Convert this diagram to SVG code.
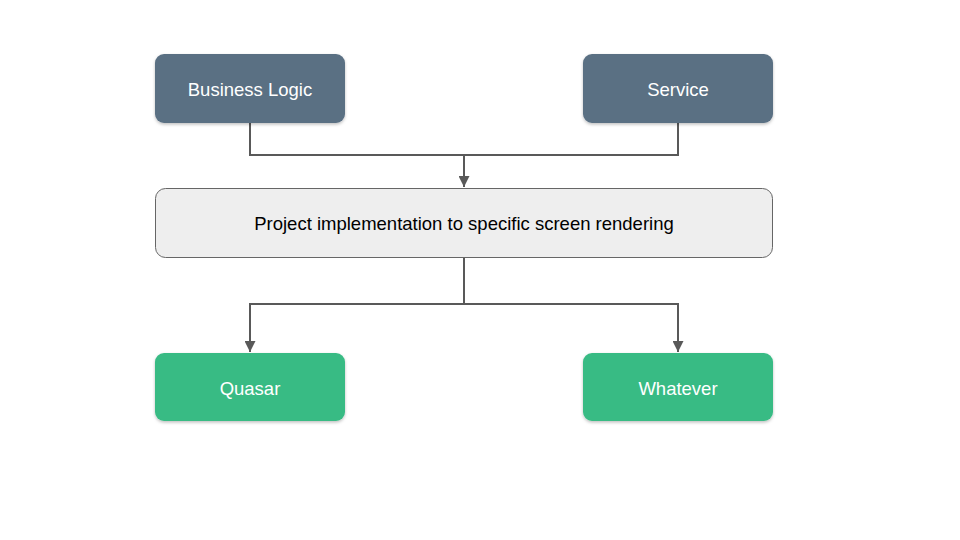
<svg xmlns="http://www.w3.org/2000/svg" width="960" height="540" viewBox="0 0 960 540">
<defs>
<filter id="sh" x="-10%" y="-10%" width="120%" height="130%"><feDropShadow dx="0" dy="1.5" stdDeviation="1.5" flood-color="#000" flood-opacity="0.25"/></filter>
<marker id="ah" viewBox="0 0 10 10" refX="10" refY="5" markerWidth="11" markerHeight="11" markerUnits="userSpaceOnUse" orient="auto"><path d="M0,0 L10,5 L0,10 z" fill="#595959"/></marker>
<style>
.dark{fill:#5a7083}
.green{fill:#38bb84}
.mid{fill:#eeeeee;stroke:#666666;stroke-width:1}
.lt{font-family:"Liberation Sans",Arial,sans-serif;font-size:18.5px;fill:#ffffff;text-anchor:middle}
.dt{font-family:"Liberation Sans",Arial,sans-serif;font-size:18.5px;fill:#000000;text-anchor:middle}
.c{fill:none;stroke:#595959;stroke-width:2}
</style>
</defs>
<rect width="960" height="540" fill="#ffffff"/>
<g id="connectors">
<path class="c" d="M250,123 V155 H678 V123"/>
<path class="c" d="M464,155 V187" marker-end="url(#ah)"/>
<path class="c" d="M464,257 V304 H250 V352" marker-end="url(#ah)"/>
<path class="c" d="M464,304 H678 V352" marker-end="url(#ah)"/>
</g>
<g id="business-logic"><rect class="dark" x="155" y="54" width="190" height="69" rx="9" filter="url(#sh)"/><text class="lt" x="250" y="96">Business Logic</text></g>
<g id="service"><rect class="dark" x="583" y="54" width="190" height="69" rx="9" filter="url(#sh)"/><text class="lt" x="678" y="96">Service</text></g>
<g id="project"><rect class="mid" x="155.5" y="188.5" width="617" height="69" rx="10"/><text class="dt" x="464" y="230">Project implementation to specific screen rendering</text></g>
<g id="quasar"><rect class="green" x="155" y="353" width="190" height="68" rx="9" filter="url(#sh)"/><text class="lt" x="250" y="395">Quasar</text></g>
<g id="whatever"><rect class="green" x="583" y="353" width="190" height="68" rx="9" filter="url(#sh)"/><text class="lt" x="678" y="395">Whatever</text></g>
</svg>
